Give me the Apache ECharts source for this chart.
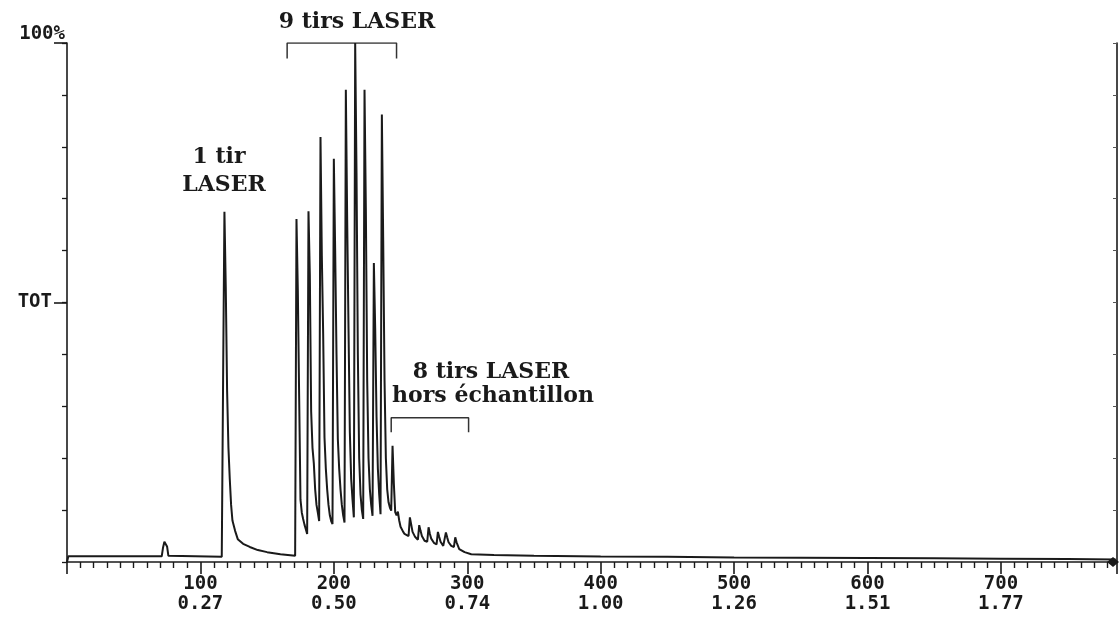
<!DOCTYPE html>
<html><head><meta charset="utf-8">
<script src="https://cdn.jsdelivr.net/npm/echarts@6/dist/echarts.min.js"></script>
<style>html,body{margin:0;padding:0;background:#fff}#c{width:1120px;height:617px}</style>
</head><body><div id="c"></div>
<script>
// Scan numbers and TOT (% of max)
const scanNo = [0,1,71,72,73,74,75,76,77,116,117,118,119,120,121,122,123,124,126,128,132,137,143,150,160,171,
  172,173,174,175,176,177,178,179,180,
  181,182,183,184,185,186,187,188,189,
  190,191,192,193,194,195,196,197,198,199,
  200,201,202,203,204,205,206,207,208,
  209,210,211,212,213,214,215,
  216,217,218,219,220,221,222,
  223,224,225,226,227,228,229,
  230,231,232,233,234,235,
  236,237,238,239,240,241,242,243,
  244,245,246,247,
  248,249,250,252,253,256,
  257,258,259,261,263,
  264,265,266,268,270,
  271,272,273,275,277,
  278,279,280,282,283,
  284,285,286,288,290,
  291,292,294,298,303,320,350,400,450,500,550,600,650,700,750,786];
const totPct = [0,1.1,1.1,2.8,3.9,3.9,3.0,1.2,1.0,1.0,35,67.5,53,33,22,16,11,8,6,4.4,3.5,2.9,2.3,1.9,1.5,1.2,
  66.1,52.5,32,12,9.5,8.3,7.2,6.3,5.4,
  67.6,55.4,29,22,19,14,11,9.5,7.9,
  81.9,59,44,24,18,14,11,9,7.9,7.3,
  77.7,60,40,23.7,18,14,11,9,7.6,
  91,66,45,25,16,12,8.6,
  100,75,40,20,13,10,8.3,
  91,68,35,20,14,11,8.9,
  57.6,45,28,18,13,9.2,
  86.2,62,35,20,14,11.5,10.5,9.9,
  22.4,15,9.6,9.0,
  9.7,8.0,6.8,5.8,5.4,5.0,
  8.6,7.2,5.8,4.8,4.3,
  7.1,6.0,5.0,4.1,3.9,
  6.7,5.4,4.5,3.7,3.4,
  5.8,4.8,3.9,3.1,3.0,
  5.7,4.7,3.8,3.1,2.9,
  4.75,3.8,2.5,1.9,1.5,1.35,1.2,1.05,1.0,0.85,0.8,0.75,0.7,0.65,0.6,0.5];

const tickScans = [100,200,300,400,500,600,700];
const tickTimes = ['0.27','0.50','0.74','1.00','1.26','1.51','1.77'];
const yLabelValues = [50,100];
const yLabelTexts = ['TOT','100%'];

// annotation brackets (scan, %)
const bracket9 = [[165,97],[165,100],[247,100],[247,97]];
const bracket8 = [[243,25],[243,27.8],[301,27.8],[301,25]];
const notes = ['9 tirs LASER','1 tir','LASER','8 tirs LASER','hors échantillon'];

const trace = scanNo.map((s,i)=>[s,totPct[i]]);
const ink = '#1a1a1a';
const chart = echarts.init(document.getElementById('c'), null, {renderer:'canvas'});
const noteFont = 'bold 22px "DejaVu Serif"';
const notePos = [[357,22],[219,157],[224,185],[491,372],[493,396]];
chart.setOption({
  animation:false,
  backgroundColor:'#fff',
  grid:{left:67,right:2,top:43,bottom:55,containLabel:false},
  xAxis:{type:'value',min:0,max:787,interval:100,
    axisLine:{show:true,onZero:false,lineStyle:{color:ink,width:1.6},symbol:['none','diamond'],symbolSize:[10,12],symbolOffset:[0,-4]},
    axisTick:{show:true,length:12,lineStyle:{color:ink,width:1.6}},
    minorTick:{show:true,splitNumber:10,length:6,lineStyle:{color:ink,width:1.4}},
    splitLine:{show:false},minorSplitLine:{show:false},
    axisLabel:{margin:12,color:'#1a1a1a',fontFamily:'DejaVu Sans Mono',fontWeight:'bold',fontSize:19,lineHeight:20,
      showMinLabel:true,showMaxLabel:true,
      formatter:v=>{const i=tickScans.indexOf(v);return i<0?'':v+'\n'+tickTimes[i];}}
  },
  yAxis:[
    {type:'value',min:0,max:100,interval:10,position:'left',
      axisLine:{show:true,lineStyle:{color:ink,width:1.6}},
      axisTick:{show:true,length:5,lineStyle:{color:ink,width:1.3}},
      axisLabel:{show:false},splitLine:{show:false}},
    {type:'value',min:0,max:100,position:'left',
      axisLine:{show:false},
      axisTick:{show:true,length:13,customValues:yLabelValues,lineStyle:{color:ink,width:1.6}},
      axisLabel:{show:true,customValues:yLabelValues,margin:2,
        formatter:v=>{const i=yLabelValues.indexOf(v);if(i<0)return '';return (v===100?'{b|':'{a|')+yLabelTexts[i]+'}';},
        rich:{
          a:{fontFamily:'DejaVu Sans Mono',fontWeight:'bold',fontSize:19,color:'#1a1a1a',padding:[0,13,0,0]},
          b:{fontFamily:'DejaVu Sans Mono',fontWeight:'bold',fontSize:19,color:'#1a1a1a',padding:[0,0,18,0]}
        }},
      splitLine:{show:false}},
    {type:'value',min:0,max:100,interval:10,position:'right',
      axisLine:{show:true,lineStyle:{color:ink,width:1.6}},
      axisTick:{show:true,inside:true,length:4,lineStyle:{color:'#555',width:1}},
      axisLabel:{show:false},splitLine:{show:false}}
  ],
  series:[
    {type:'line',data:trace,showSymbol:false,symbol:'none',lineStyle:{color:ink,width:2},silent:true,z:3},
    {type:'line',data:bracket9,showSymbol:false,symbol:'none',lineStyle:{color:'#333',width:1.5},silent:true,z:2},
    {type:'line',data:bracket8,showSymbol:false,symbol:'none',lineStyle:{color:'#333',width:1.5},silent:true,z:2}
  ],
  graphic:notes.map((t,i)=>({type:'text',x:notePos[i][0],y:notePos[i][1],silent:true,
    style:{text:t,font:noteFont,fill:'#1a1a1a',textAlign:'center',textVerticalAlign:'middle',align:'center',verticalAlign:'middle'}}))
});
</script>
</body></html>
